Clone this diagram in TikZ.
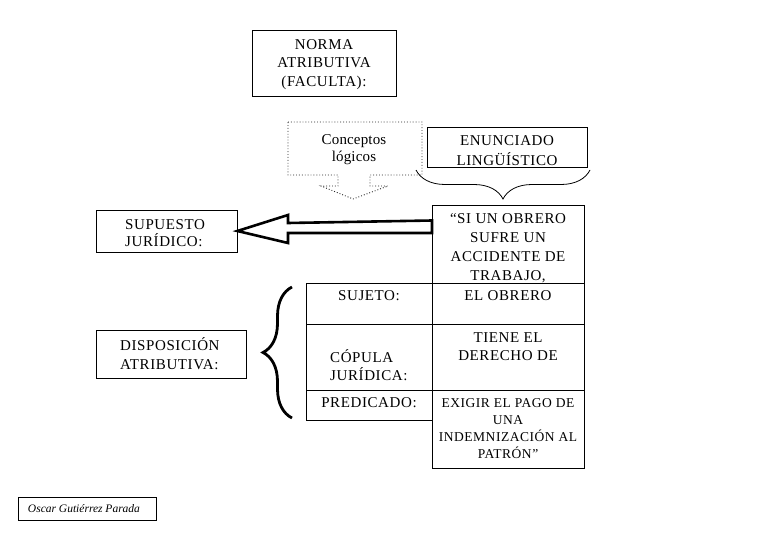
\documentclass[tikz,border=0pt]{standalone}
\usepackage{fontspec}
\setmainfont{Liberation Serif}
\usetikzlibrary{decorations.pathreplacing}
\newcommand{\spreadtxt}{\addfontfeature{LetterSpace=4}}
\begin{document}
\begin{tikzpicture}[x=1pt,y=-1pt,
  box/.style={draw,line width=0.8pt,inner sep=0pt},
  txt/.style={align=center,inner sep=0pt,font=\fontsize{15}{19}\selectfont\spreadtxt},
  small/.style={align=center,inner sep=0pt,font=\fontsize{13.5}{17}\selectfont\spreadtxt},
  fatarrow/.style={draw,line width=2.6pt,fill=white,line join=miter},
  callout/.style={draw=black!85,dotted,line width=0.9pt},
  bracethin/.style={draw,line width=0.8pt,decorate,decoration={brace,amplitude=29pt,aspect=0.5}},
  bracethick/.style={draw,line width=2.8pt,decorate,decoration={brace,amplitude=29pt,aspect=0.5}}]
\useasboundingbox (0,0) rectangle (780,540);

% top box
\node[box,minimum width=144,minimum height=66] (normabox) at (324,63) {};
\node[txt,font=\fontsize{15}{18.5}\selectfont\spreadtxt] (norma) at (324,64.5) {NORMA\\ATRIBUTIVA\\(FACULTA):};

% conceptos callout
\draw[callout] (288,122) -- (422,122) -- (422,175) -- (370,175) -- (370,186) -- (388,186)
  -- (353,199) -- (321,186) -- (338,186) -- (338,175) -- (288,175) -- cycle;
\node[txt,font=\fontsize{15}{17}\selectfont\addfontfeature{LetterSpace=1}] (conc) at (354,149.5) {Conceptos\\lógicos};

% enunciado
\node[box,minimum width=160,minimum height=40] (enunbox) at (507,147) {};
\node[txt,font=\fontsize{15}{20}\selectfont\spreadtxt] (enun) at (507,150.5) {ENUNCIADO\\LINGÜÍSTICO};
\coordinate (bR) at (590,170);
\coordinate (bL) at (416,170);
\draw[bracethin] (bR) -- (bL);

% right column
\node[box,minimum width=152,minimum height=263] (si) at (508,336.5) {};
\node[box,minimum width=126,minimum height=137] (leftcol) at (369,351.5) {};
\coordinate (r1L) at (306,283); \coordinate (r1R) at (584,283);
\coordinate (r2L) at (306,324); \coordinate (r2R) at (584,324);
\coordinate (r3L) at (306,390); \coordinate (r3R) at (584,390);
\draw[line width=0.8pt] (r1L) -- (r1R) (r2L) -- (r2R) (r3L) -- (r3R);

\node[txt] (sitxt) at (508,248.5) {“SI UN OBRERO\\SUFRE UN\\ACCIDENTE DE\\TRABAJO,};
\node[txt] (sujeto) at (369,296) {SUJETO:};
\node[txt] (obrero) at (508,296) {EL OBRERO};
\node[txt,font=\fontsize{15}{18}\selectfont\spreadtxt] (tiene) at (508,347) {TIENE EL\\DERECHO DE};
\node[txt,align=left,anchor=west,font=\fontsize{15}{17.5}\selectfont\spreadtxt] (copula) at (330,365) {CÓPULA\\JURÍDICA:};
\node[txt] (pred) at (369,403) {PREDICADO:};
\node[small] (exigir) at (508,429) {EXIGIR EL PAGO DE\\UNA\\INDEMNIZACIÓN AL\\PATRÓN”};

% supuesto
\node[box,minimum width=141,minimum height=42] (sup) at (166.5,231) {};
\node[txt,align=left,anchor=west,font=\fontsize{15}{17.5}\selectfont\spreadtxt] (suptxt) at (125,233) {SUPUESTO\\JURÍDICO:};

% fat arrow from si to supuesto
\coordinate (tailTop) at (432,220.5);
\coordinate (tailBot) at (432,233);
\draw[fatarrow] (sup.east) -- (288,215) -- (288,223) -- (tailTop) -- (tailBot)
  -- (288,233) -- (288,243) -- cycle;

% disposicion
\node[box,minimum width=150,minimum height=48] (disp) at (171,354) {};
\node[txt,align=left,anchor=west,font=\fontsize{15}{19.5}\selectfont\spreadtxt] (disptxt) at (120,353.5) {DISPOSICIÓN\\ATRIBUTIVA:};

% left brace
\coordinate (lbB) at (292,418);
\coordinate (lbT) at (292,287);
\draw[bracethick] (lbB) -- (lbT);

% author
\node[box,minimum width=138,minimum height=23] (authbox) at (87,508.5) {};
\node[inner sep=0pt,font=\fontsize{11.5}{13}\selectfont\itshape] (auth) at (84,509) {Oscar Gutiérrez Parada};
\end{tikzpicture}
\end{document}
